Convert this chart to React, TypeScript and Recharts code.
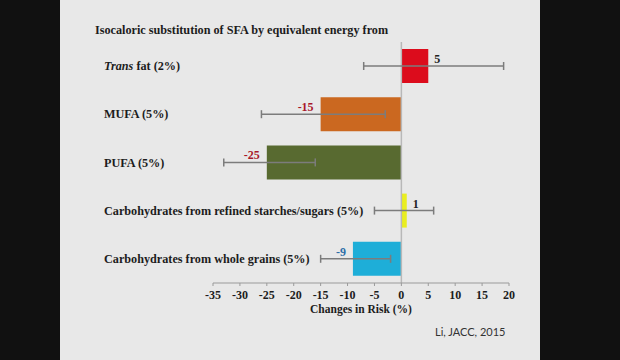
import React from "react";
import {
    BarChart,
    Bar,
    XAxis,
    YAxis,
    Cell,
    ErrorBar,
    LabelList,
    ReferenceLine,
} from "recharts";

const categories = [
    "Trans fat (2%)",
    "MUFA (5%)",
    "PUFA (5%)",
    "Carbohydrates from refined starches/sugars (5%)",
    "Carbohydrates from whole grains (5%)",
];
const riskChange = [5, -15, -25, 1, -9];
const ciLower = [-7, -26, -33, -5, -15];
const ciUpper = [19, -3, -16, 6, -2];
const barColors = ["#dc0c1c", "#cb6820", "#586a30", "#e9ee20", "#1eaed8"];
const labelColors = ["#222222", "#a8182a", "#a8182a", "#222222", "#2f6fa8"];
const xTicks = [-35, -30, -25, -20, -15, -10, -5, 0, 5, 10, 15, 20];

const data = categories.map((name, i) => ({
    name,
    value: riskChange[i],
    err: [riskChange[i] - ciLower[i], ciUpper[i] - riskChange[i]],
}));

const serif = "'Liberation Serif', 'Times New Roman', serif";

const CategoryTick = (props: any) => {
    const { y, payload } = props;
    const label: string = payload.value;
    const italic = label.startsWith("Trans ");
    return (
        <text
            x={104}
            y={y}
            dy={4}
            textAnchor="start"
            fontFamily={serif}
            fontWeight="bold"
            fontSize={12.2}
            fill="#1c1c1c"
        >
            {italic ? (
                <>
                    <tspan fontStyle="italic">Trans</tspan>
                    <tspan>{label.slice(5)}</tspan>
                </>
            ) : (
                label
            )}
        </text>
    );
};

const ValueLabel = (props: any) => {
    const { x, y, width, height, value, index } = props;
    const left = Math.min(x, x + width);
    const right = Math.max(x, x + width);
    const positive = value >= 0;
    return (
        <text
            x={positive ? right + 6 : left - 7}
            y={y + height / 2 - 7}
            dy={4}
            textAnchor={positive ? "start" : "end"}
            fontFamily={serif}
            fontWeight="bold"
            fontSize={12}
            fill={labelColors[index]}
        >
            {value}
        </text>
    );
};

const App = () => {
    return (
        <div
            style={{
                position: "absolute",
                left: 0,
                top: 0,
                width: 620,
                height: 360,
                background: "#111111",
                overflow: "hidden",
            }}
        >
            <div
                style={{
                    position: "absolute",
                    left: 60,
                    top: 0,
                    width: 480,
                    height: 360,
                    background: "#e8e8e8",
                }}
            />
            <div
                style={{
                    position: "absolute",
                    left: 95,
                    top: 22,
                    fontFamily: serif,
                    fontWeight: "bold",
                    fontSize: 12.2,
                    lineHeight: "16px",
                    color: "#1c1c1c",
                    whiteSpace: "nowrap",
                }}
            >
                Isocaloric substitution of SFA by equivalent energy from
            </div>
            <div
                style={{
                    position: "absolute",
                    left: 435,
                    top: 324,
                    fontFamily: "Lato, 'Open Sans', sans-serif",
                    fontSize: 11,
                    lineHeight: "16px",
                    color: "#333333",
                    whiteSpace: "nowrap",
                }}
            >
                Li, JACC, 2015
            </div>
            <div style={{ position: "absolute", left: 0, top: 0 }}>
                <BarChart
                    width={620}
                    height={360}
                    data={data}
                    layout="vertical"
                    margin={{ top: 42, right: 111, bottom: 47, left: 63 }}
                >
                    <XAxis
                        type="number"
                        domain={[-35, 20]}
                        ticks={xTicks}
                        interval={0}
                        stroke="#9a9a9a"
                        tickSize={3}
                        tickMargin={4}
                        tick={{
                            fontFamily: serif,
                            fontWeight: "bold",
                            fontSize: 12,
                            fill: "#1c1c1c",
                        }}
                        label={{
                            value: "Changes in Risk (%)",
                            position: "insideBottom",
                            offset: 0,
                            fontFamily: serif,
                            fontWeight: "bold",
                            fontSize: 11.5,
                            fill: "#1c1c1c",
                        }}
                    />
                    <YAxis
                        type="category"
                        dataKey="name"
                        width={150}
                        axisLine={false}
                        tickLine={false}
                        tick={<CategoryTick />}
                    />
                    <ReferenceLine x={0} stroke="#b8b8b8" strokeWidth={1.5} />
                    <Bar dataKey="value" barSize={34} isAnimationActive={false}>
                        {data.map((d, i) => (
                            <Cell key={d.name} fill={barColors[i]} />
                        ))}
                        <ErrorBar
                            dataKey="err"
                            direction="x"
                            width={4}
                            stroke="#7c7c7c"
                            strokeWidth={1.5}
                        />
                        <LabelList dataKey="value" content={<ValueLabel />} />
                    </Bar>
                </BarChart>
            </div>
        </div>
    );
};

export default App;
